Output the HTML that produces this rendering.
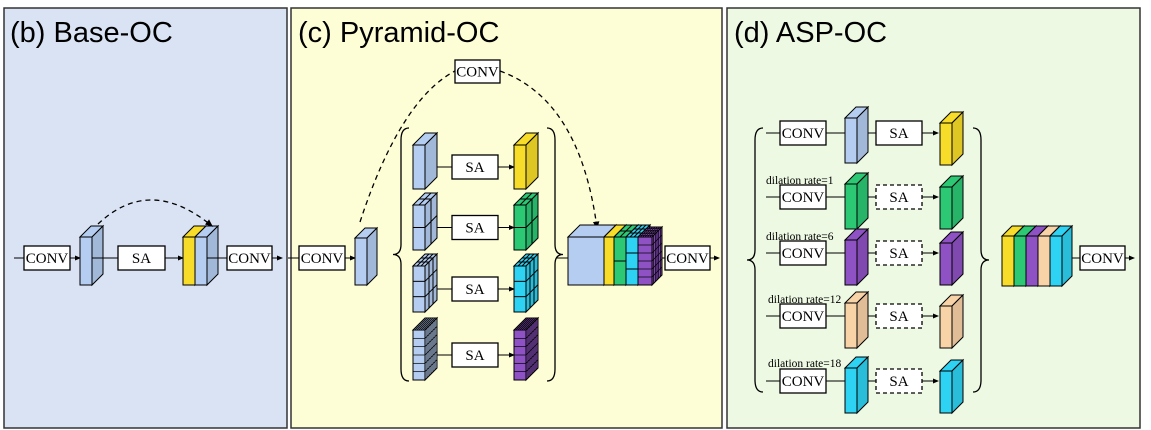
<!DOCTYPE html>
<html><head><meta charset="utf-8"><style>
html,body{margin:0;padding:0;background:#fff;}
svg{display:block;font-family:"Liberation Serif",serif;}
</style></head><body>
<svg id="s" width="1151" height="430" viewBox="0 0 1151 430">
<defs><marker id="a" markerWidth="6" markerHeight="6" refX="5" refY="3" orient="auto"><path d="M0,0.5 L6,3 L0,5.5 z" fill="#000"/></marker></defs>
<rect x="4" y="8" width="283" height="420" fill="#dae3f3" stroke="#333" stroke-width="1.5"/>
<rect x="291" y="8" width="431" height="420" fill="#fdfdd6" stroke="#333" stroke-width="1.5"/>
<rect x="727" y="8" width="413" height="420" fill="#eef9e4" stroke="#333" stroke-width="1.5"/>
<g font-family="Liberation Sans,sans-serif" font-size="29">
<text x="10" y="42">(b) Base-OC</text>
<text x="298" y="42">(c) Pyramid-OC</text>
<text x="734" y="42">(d) ASP-OC</text>
</g>
<g id="g" stroke="#000" stroke-width="1"></g>
<g id="t" font-size="15" text-anchor="middle"></g>
<g font-size="11.5">
<text x="766" y="184">dilation rate=1</text>
<text x="766" y="240">dilation rate=6</text>
<text x="768" y="303">dilation rate=12</text>
<text x="768" y="367">dilation rate=18</text>
</g>
</svg>
<script>
const G=document.getElementById('g'),T=document.getElementById('t');
function el(n,a,p){const e=document.createElementNS('http://www.w3.org/2000/svg',n);for(const k in a)e.setAttribute(k,a[k]);(p||G).appendChild(e);return e;}
function shade(c,f){const n=parseInt(c.slice(1),16);let r=(n>>16)*f,g=((n>>8)&255)*f,b=(n&255)*f;return `rgb(${r|0},${g|0},${b|0})`;}
function prism(x,y,w,h,d,c,rows){
 el('polygon',{points:`${x},${y} ${x+d},${y-d} ${x+w+d},${y-d} ${x+w},${y}`,fill:c});
 el('polygon',{points:`${x+w},${y} ${x+w+d},${y-d} ${x+w+d},${y+h-d} ${x+w},${y+h}`,fill:shade(c,0.9)});
 el('rect',{x,y,width:w,height:h,fill:c});
 if(rows){const sw=rows>4?0.7:1;
  for(let i=1;i<rows;i++){const yy=y+h*i/rows;el('line',{x1:x,y1:yy,x2:x+w,y2:yy,'stroke-width':sw});el('line',{x1:x+w,y1:yy,x2:x+w+d,y2:yy-d,'stroke-width':sw});}
  for(let i=1;i<rows;i++){const f=i/rows;el('line',{x1:x+w+d*f,y1:y-d*f,x2:x+w+d*f,y2:y+h-d*f,'stroke-width':sw});el('line',{x1:x+d*f,y1:y-d*f,x2:x+w+d*f,y2:y-d*f,'stroke-width':sw});
   const xx=x+w*i/rows;el('line',{x1:xx,y1:y,x2:xx+d,y2:y-d,'stroke-width':sw});}}
}
function box(x,y,w,h,label,dash){el('rect',{x,y,width:w,height:h,fill:'#fff','stroke-width':1.3,'stroke-dasharray':dash?'4,3':''});const t=el('text',{x:x+w/2,y:y+h/2+5},T);t.textContent=label;}
function ln(x1,y1,x2,y2,arr){el('line',{x1,y1,x2,y2,'marker-end':arr?'url(#a)':''});}
function dashp(d,arr){el('path',{d,fill:'none','stroke-width':1.3,'stroke-dasharray':'5,4','marker-end':arr?'url(#a)':''});}
const B='#b4cdf0',Y='#f7dc2a',Gn='#2cc874',C='#2ed2f2',P='#8e52c4',O='#f9d3a8';
ln(14,258,24,258);box(24,246,46,24,'CONV');ln(70,258,80,258,1);
prism(80,237,12,48,11,B);ln(92,258,118,258);box(118,246,47,24,'SA');ln(165,258,183,258,1);
prism(183,237,12,48,11,Y);prism(195,237,12,48,11,B);ln(207,258,227,258);box(227,246,45,24,'CONV');ln(272,258,282,258,1);
dashp('M98,224 Q150,175 212,226',1);
ln(288,258,299,258);box(299,246,46,24,'CONV');ln(345,258,355,258,1);
prism(355,238,12,47,10,B);
dashp('M360,222 Q400,100 455,71');box(455,60,45,23,'CONV');dashp('M500,71 Q580,100 597,228',1);
function brace(x,y1,y2,dir){const m=(y1+y2)/2,k=dir*8;el('path',{d:`M${x+k},${y1} Q${x},${y1} ${x},${y1+12} L${x},${m-10} Q${x},${m} ${x-k},${m} Q${x},${m} ${x},${m+10} L${x},${y2-12} Q${x},${y2} ${x+k},${y2}`,fill:'none','stroke-width':1.3});}
brace(401,128,381,1);brace(555,128,381,-1);brace(755,128,392,1);brace(981,128,392,-1);
const rowsC=[[145,44,1,Y],[205,45,2,Gn],[266,46,3,C],[330,50,6,P]];
for(const[y,h,r,c] of rowsC){prism(413,y,12,h,12,B,r>1?r:0);const cy=y+h/2;ln(437,cy,452,cy);box(452,cy-12,46,24,'SA');ln(498,cy,514,cy,1);prism(514,y,12,h,12,c,r>1?r:0);}
prism(568,237,36,48,12,B);prism(604,237,10,48,12,Y);prism(614,237,12,48,12,Gn,2);prism(626,237,12,48,12,C,3);prism(638,237,14,48,10,P,6);
ln(556,258,568,258);ln(662,258,665,258);box(665,246,45,24,'CONV');ln(710,258,719,258,1);
const rowsD=[[133,B,Y,0],[197,Gn,Gn,1],[253,P,P,1],[316,O,O,1],[381,C,C,1]];
for(const[cy,c1,c2,d] of rowsD){ln(766,cy,780,cy);box(780,cy-12,46,24,'CONV');ln(826,cy,845,cy);prism(845,cy-13-(cy==133?2:0),12,45,11,c1);ln(868,cy,876,cy);box(876,cy-12,46,24,'SA',d);ln(922,cy,938,cy,1);prism(940,cy-10,12,42,11,c2);}
const cs=[Y,Gn,P,O,C];cs.forEach((c,i)=>prism(1002+i*12,236,12,50,10,c));
ln(1072,258,1080,258);box(1080,246,45,24,'CONV');ln(1125,258,1134,258,1);
</script>
</body></html>
